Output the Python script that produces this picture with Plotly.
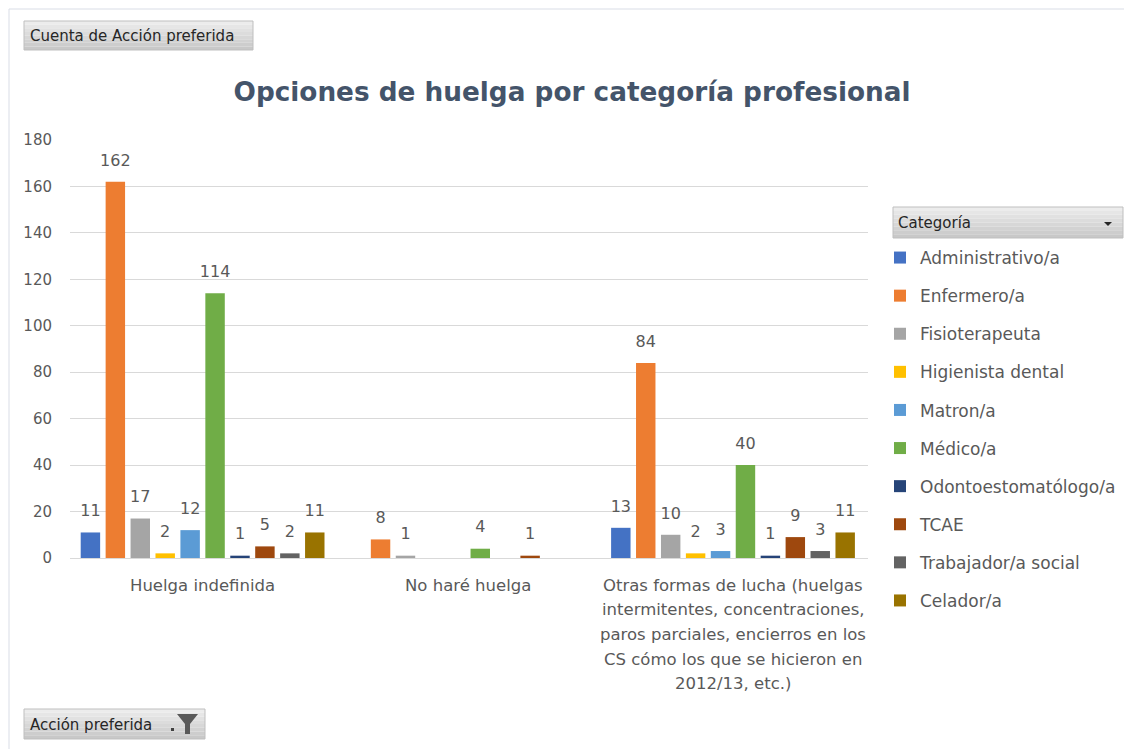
import plotly.graph_objects as go

# data
acciones = [
    "Huelga indefinida",
    "No haré huelga",
    "Otras formas de lucha (huelgas<br>intermitentes, concentraciones,<br>paros parciales, encierros en los<br>CS cómo los que se hicieron en<br>2012/13, etc.)",
]
categorias = ["Administrativo/a", "Enfermero/a", "Fisioterapeuta", "Higienista dental", "Matron/a",
              "Médico/a", "Odontoestomatólogo/a", "TCAE", "Trabajador/a social", "Celador/a"]
administrativo = [11, None, 13]
enfermero = [162, 8, 84]
fisioterapeuta = [17, 1, 10]
higienista = [2, None, 2]
matron = [12, None, 3]
medico = [114, 4, 40]
odonto = [1, None, 1]
tcae = [5, 1, 9]
trabajador = [2, None, 3]
celador = [11, None, 11]
valores = [administrativo, enfermero, fisioterapeuta, higienista, matron,
           medico, odonto, tcae, trabajador, celador]
colores = ["#4472C4", "#ED7D31", "#A5A5A5", "#FFC000", "#5B9BD5",
           "#70AD47", "#264478", "#9E480E", "#636363", "#997300"]

# the page puts an 8px margin around the figure, so page pixels are shifted by OFF
OFF = 8
W_FIG, H_FIG = 1132 - OFF, 749 - OFF
L, T = 70 - OFF, 140 - OFF
PW, PH = 798, 418
R, B = W_FIG - L - PW, H_FIG - T - PH
FONT = "'DejaVu Sans', sans-serif"
GAP = 0.06


def fx(p):
    # page pixel x -> paper
    return (p - OFF - L) / PW


def fy(p):
    # page pixel y -> paper
    return (H_FIG - B - (p - OFF)) / PH


fig = go.Figure()
for nombre, vals, col in zip(categorias, valores, colores):
    fig.add_trace(go.Bar(
        name=nombre, x=acciones, y=vals, marker_color=col, marker_line_width=0,
        legendgroup=nombre, hoverinfo="skip",
    ))
# value labels: grouped scatter so they sit a bit higher above the bars (as in Excel)
for nombre, vals in zip(categorias, valores):
    fig.add_trace(go.Scatter(
        name=nombre, x=acciones, y=vals, mode="markers+text", texttemplate="%{y}",
        textposition="top center", cliponaxis=False,
        marker=dict(size=18, opacity=0), showlegend=False, legendgroup=nombre,
        textfont=dict(size=16, color="#595959", family=FONT),
    ))


def boton(x0, y0, x1, y1):
    # grey gradient-like button made of strips
    shapes = []
    n = 8
    for i in range(n):
        g = int(236 - i * (236 - 200) / (n - 1))
        c = f"rgb({g},{g},{g})"
        ya = y0 + (y1 - y0) * i / n
        yb = y0 + (y1 - y0) * (i + 1) / n
        shapes.append(dict(type="rect", xref="paper", yref="paper", x0=fx(x0), x1=fx(x1),
                           y0=fy(ya), y1=fy(yb), fillcolor=c, line_width=0, layer="below"))
    shapes.append(dict(type="rect", xref="paper", yref="paper", x0=fx(x0), x1=fx(x1),
                       y0=fy(y0), y1=fy(y1), line=dict(color="#BFBFBF", width=1)))
    return shapes


shapes = []
# chart border
shapes.append(dict(type="rect", xref="paper", yref="paper", x0=fx(9), x1=fx(1126),
                   y0=fy(9), y1=fy(760), line=dict(color="#D9DDE6", width=1)))
shapes += boton(24, 21, 253, 50)
shapes += boton(24, 709, 205, 739)
shapes += boton(893, 207, 1123, 238)
# dropdown arrows and funnel
shapes.append(dict(type="path", xref="paper", yref="paper",
                   path=f"M{fx(1104)},{fy(222)} L{fx(1112)},{fy(222)} L{fx(1108)},{fy(226)} Z",
                   fillcolor="#262626", line_width=0))
shapes.append(dict(type="rect", xref="paper", yref="paper", x0=fx(171), x1=fx(174),
                   y0=fy(728), y1=fy(731), fillcolor="#404040", line_width=0))
shapes.append(dict(type="path", xref="paper", yref="paper",
                   path=(f"M{fx(177)},{fy(714)} L{fx(198)},{fy(714)} L{fx(190)},{fy(724)} "
                         f"L{fx(190)},{fy(734)} L{fx(185)},{fy(734)} L{fx(185)},{fy(724)} Z"),
                   fillcolor="#595959", line_width=0))

annotations = [
    dict(text="Cuenta de Acción preferida", xref="paper", yref="paper", x=fx(28), y=fy(36),
         xanchor="left", yanchor="middle", showarrow=False,
         font=dict(size=15, color="#262626", family=FONT)),
    dict(text="Acción preferida", xref="paper", yref="paper", x=fx(28), y=fy(725),
         xanchor="left", yanchor="middle", showarrow=False,
         font=dict(size=15, color="#262626", family=FONT)),
    dict(text="Categoría", xref="paper", yref="paper", x=fx(896), y=fy(223),
         xanchor="left", yanchor="middle", showarrow=False,
         font=dict(size=15, color="#262626", family=FONT)),
]
# category labels, one annotation per line so the line spacing matches Excel's
for acc in acciones:
    for i, linea in enumerate(acc.split("<br>")):
        annotations.append(dict(
            text=linea, x=acc, xref="x", y=0, yref="paper", yshift=-(27 + i * 24.7),
            yanchor="middle", xanchor="center", showarrow=False,
            font=dict(size=16.5, color="#595959", family=FONT)))

fig.update_layout(
    width=W_FIG, height=H_FIG,
    margin=dict(l=L, r=R, t=T, b=B, autoexpand=False),
    paper_bgcolor="white", plot_bgcolor="white",
    barmode="group", bargap=GAP, bargroupgap=0.22,
    scattermode="group", scattergap=GAP,
    title=dict(text="<b>Opciones de huelga por categoría profesional</b>",
               x=(572 - OFF) / W_FIG, xanchor="center", xref="container",
               y=1 - (92 - OFF) / H_FIG, yanchor="middle", yref="container",
               font=dict(size=26.3, color="#44546A", family=FONT)),
    font=dict(family=FONT, color="#595959"),
    yaxis=dict(range=[0, 180], dtick=20, showgrid=True, gridcolor="#D9D9D9", gridwidth=1,
               zeroline=False, showline=False, ticks="",
               tickfont=dict(size=15, color="#595959"), ticklabelstandoff=17),
    xaxis=dict(showline=True, linecolor="#D9D9D9", ticks="", showticklabels=False),
    legend=dict(x=fx(880), y=fy(240), xanchor="left", yanchor="top",
                font=dict(size=17, color="#595959", family=FONT),
                tracegroupgap=13, traceorder="grouped", itemclick=False),
    shapes=shapes,
    annotations=annotations,
    showlegend=True,
)

fig.write_html("out.html")
